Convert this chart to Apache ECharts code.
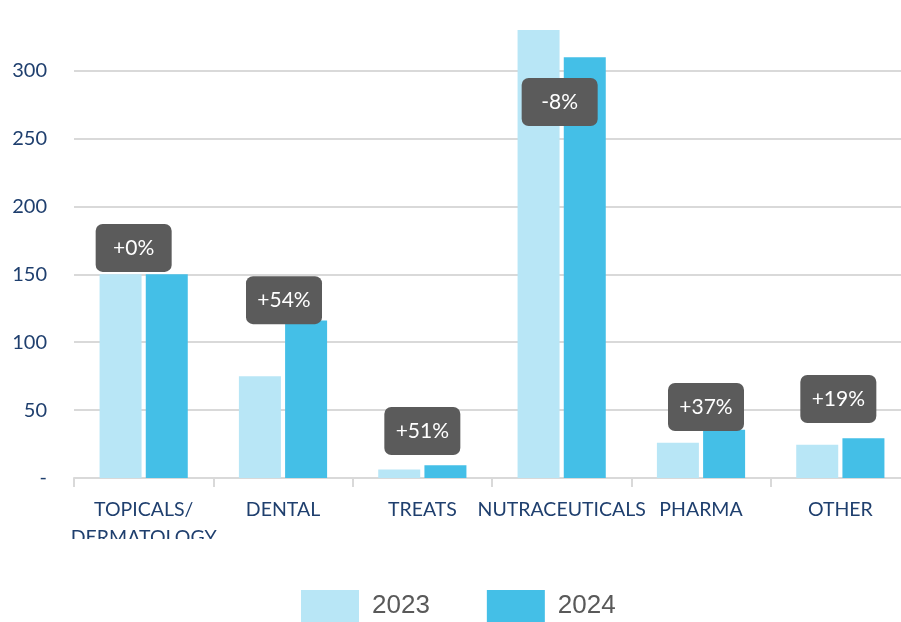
<!DOCTYPE html>
<html>
<head>
<meta charset="utf-8">
<script src="https://cdn.jsdelivr.net/npm/echarts@6/dist/echarts.min.js"></script>
<style>
  html, body { margin: 0; padding: 0; background: #fff; overflow: hidden; }
  /* the source chart runs a little past the right edge of the picture */
  #chart { width: 910px; height: 622px; }
</style>
</head>
<body>
<div id="chart"></div>
<script>
  // categories and values
  var categories = ["TOPICALS/\nDERMATOLOGY", "DENTAL", "TREATS", "NUTRACEUTICALS", "PHARMA", "OTHER"];
  var sales2023 = [150, 75, 6.2, 337, 26, 24.5];
  var sales2024 = [150, 116, 9.4, 310, 35.6, 29.2];
  var changeLabels = ["+0%", "+54%", "+51%", "-8%", "+37%", "+19%"];
  // height (in axis units) where each change callout sits
  var calloutLevel = [169.5, 131, 34.6, 277, 52.3, 58.2];
  var calloutShift = [-10, 1, 0, -2, 5, -2];

  var navy = "#1f3f6e";
  var myChart = echarts.init(document.getElementById("chart"));

  var callouts = [];
  for (var i = 0; i < categories.length; i++) {
    callouts.push({
      value: [i, calloutLevel[i]],
      label: { offset: [calloutShift[i], 0] }
    });
  }

  var option = {
    animation: false,
    grid: { left: 74, right: 0, top: 30, height: 448 },
    legend: {
      data: ["2023", "2024"],
      top: 585,
      left: 296,
      itemWidth: 58,
      itemHeight: 32,
      itemGap: 57,
      icon: "rect",
      textStyle: {
        fontFamily: "Liberation Sans",
        fontSize: 26,
        color: "#595959",
        padding: [0, 0, 0, 8]
      }
    },
    xAxis: {
      type: "category",
      data: categories,
      axisLine: { lineStyle: { color: "#d9d9d9", width: 2 } },
      axisTick: { show: true, length: 9, lineStyle: { color: "#d9d9d9", width: 2 } },
      axisLabel: {
        color: navy,
        fontFamily: "Lato",
        fontSize: 19.5,
        margin: 18,
        lineHeight: 28,
        interval: 0
      }
    },
    yAxis: {
      type: "value",
      min: 0,
      max: 330,
      interval: 50,
      axisLine: { show: false },
      axisTick: { show: false },
      splitLine: { showMaxLine: false, lineStyle: { color: "#d9d9d9", width: 2 } },
      axisLabel: {
        color: navy,
        fontFamily: "Lato",
        fontSize: 20,
        margin: 27,
        showMaxLabel: false,
        formatter: function (v) {
          if (v === 0) return "-";
          return v % 50 === 0 ? String(v) : "";
        }
      }
    },
    series: [
      {
        name: "2023",
        type: "bar",
        data: sales2023,
        barWidth: 42,
        barGap: "10%",
        clip: true,
        itemStyle: { color: "#b8e6f6" }
      },
      {
        name: "2024",
        type: "bar",
        data: sales2024,
        barWidth: 42,
        clip: true,
        itemStyle: { color: "#44bfe7" }
      },
      {
        name: "change",
        type: "scatter",
        symbolSize: 0,
        data: callouts,
        z: 10,
        itemStyle: { opacity: 1 },
        label: {
          show: true,
          position: "inside",
          formatter: function (p) { return changeLabels[p.dataIndex]; },
          color: "#fff",
          fontFamily: "Lato",
          fontSize: 21,
          backgroundColor: "#5b5b5b",
          borderRadius: 7,
          width: 76,
          height: 48,
          lineHeight: 48,
          align: "center",
          verticalAlign: "middle"
        }
      }
    ],
    graphic: [
      {
        // the source picture is cut off just under the first label line
        type: "rect",
        shape: { x: 0, y: 539, width: 910, height: 44 },
        style: { fill: "#fff" },
        z: 100
      }
    ]
  };

  myChart.setOption(option);
</script>
</body>
</html>
